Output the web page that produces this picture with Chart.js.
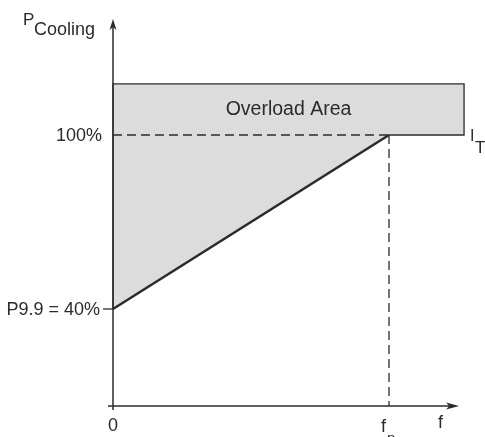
<!DOCTYPE html>
<html>
<head>
<meta charset="utf-8">
<script src="https://cdn.jsdelivr.net/npm/chart.js@4/dist/chart.umd.min.js"></script>
<style>
  html, body { margin: 0; padding: 0; background: #fff; }
  canvas { display: block; }
</style>
</head>
<body>
<canvas id="coolChart" width="485" height="437"></canvas>
<script>
// x in units of fn (0 .. fn), y in percent of cooling power
var freqTicks = [0, 1];
var freqLabels = ['0', 'f'];
var pctTicks = [40, 100];
var pctLabels = ['P9.9 = 40%', '100%'];
var areaX = [0, 0, 1.272, 1.272, 1];
var areaY = [40, 117.6, 117.6, 100, 100];
var slopeX = [0, 1];
var slopeY = [40, 100];

var INK = '#2b2b2b';
var FAM = '"Liberation Sans", Arial, sans-serif';
var FONT = '18px ' + FAM;

function pts(xs, ys) {
	var out = [];
	for (var i = 0; i < xs.length; i++) {
		out.push({x: xs[i], y: ys[i]});
	}
	return out;
}

var X_MIN = -0.0181, X_MAX = 1.2754;
var Y_MIN = 6.55, Y_MAX = 140;

var axesPlugin = {
	id: 'axesAndText',
	afterDatasetsDraw: function(chart) {
		var ctx = chart.ctx;
		var sx = chart.scales.x, sy = chart.scales.y;
		var x0 = sx.getPixelForValue(0);
		var y0 = sy.getPixelForValue(Y_MIN);
		var yTop = sy.getPixelForValue(Y_MAX);
		var xEnd = sx.getPixelForValue(1.254);
		ctx.save();
		ctx.strokeStyle = INK;
		ctx.fillStyle = INK;
		ctx.lineWidth = 1.5;
		// y axis
		ctx.beginPath();
		ctx.moveTo(x0, y0 + 4);
		ctx.lineTo(x0, yTop + 6);
		ctx.stroke();
		ctx.beginPath();
		ctx.moveTo(x0, yTop);
		ctx.lineTo(x0 - 3.5, yTop + 11);
		ctx.lineTo(x0, yTop + 8);
		ctx.lineTo(x0 + 3.5, yTop + 11);
		ctx.closePath();
		ctx.fill();
		// x axis
		ctx.beginPath();
		ctx.moveTo(sx.getPixelForValue(X_MIN), y0);
		ctx.lineTo(xEnd - 6, y0);
		ctx.stroke();
		ctx.beginPath();
		ctx.moveTo(xEnd, y0);
		ctx.lineTo(xEnd - 13, y0 - 3.5);
		ctx.lineTo(xEnd - 10, y0);
		ctx.lineTo(xEnd - 13, y0 + 3.5);
		ctx.closePath();
		ctx.fill();
		// tick at 40%
		ctx.lineWidth = 1.3;
		var y40 = sy.getPixelForValue(pctTicks[0]);
		ctx.beginPath();
		ctx.moveTo(x0 - 10, y40);
		ctx.lineTo(x0, y40);
		ctx.stroke();

		// tick labels
		ctx.font = FONT;
		ctx.textAlign = 'right';
		ctx.textBaseline = 'middle';
		ctx.fillText(pctLabels[0], x0 - 13, y40 + 1);
		ctx.fillText(pctLabels[1], x0 - 11, sy.getPixelForValue(pctTicks[1]) + 1);

		ctx.textAlign = 'center';
		ctx.textBaseline = 'alphabetic';
		ctx.fillText(freqLabels[0], sx.getPixelForValue(freqTicks[0]), y0 + 25);
		var xfn = sx.getPixelForValue(freqTicks[1]);
		ctx.textAlign = 'left';
		ctx.fillText(freqLabels[1], xfn - 8, y0 + 26);
		ctx.font = '15px ' + FAM;
		ctx.fillText('n', xfn - 2, y0 + 37);
		ctx.font = FONT;
		ctx.fillText('f', xEnd - 21, y0 + 22);

		// axis title
		ctx.font = '17px ' + FAM;
		ctx.fillText('P', 23, 25);
		ctx.font = '18px ' + FAM;
		ctx.fillText('Cooling', 34, 35);

		// I_T
		ctx.font = '16px ' + FAM;
		ctx.fillText('I', 470, 141);
		ctx.font = '17px ' + FAM;
		ctx.fillText('T', 475, 153);

		// area label
		ctx.font = '19.5px ' + FAM;
		ctx.textAlign = 'center';
		ctx.textBaseline = 'middle';
		ctx.fillText('Overload Area', sx.getPixelForValue((areaX[0] + areaX[2]) / 2), sy.getPixelForValue((areaY[1] + areaY[3]) / 2));
		ctx.restore();
	}
};

var chart = new Chart(document.getElementById('coolChart'), {
	type: 'scatter',
	data: {
		datasets: [
			{
				label: 'Overload Area',
				data: pts(areaX, areaY),
				showLine: true,
				fill: 'shape',
				backgroundColor: '#dcdcdc',
				borderColor: INK,
				borderWidth: 1.3,
				pointRadius: 0,
				tension: 0,
				clip: false,
				order: 4
			},
			{
				label: 'limit',
				data: pts(slopeX, slopeY),
				showLine: true,
				borderColor: INK,
				borderWidth: 2.6,
				pointRadius: 0,
				clip: false,
				order: 1
			},
			{
				label: 'nominal level',
				data: pts([0, 1], [100, 100]),
				showLine: true,
				borderColor: INK,
				borderWidth: 1.3,
				borderDash: [9, 5],
				pointRadius: 0,
				clip: false,
				order: 2
			},
			{
				label: 'fn',
				data: pts([1, 1], [100, Y_MIN]),
				showLine: true,
				borderColor: INK,
				borderWidth: 1.3,
				borderDash: [9, 5],
				pointRadius: 0,
				clip: false,
				order: 3
			}
		]
	},
	options: {
		responsive: false,
		animation: false,
		layout: {padding: {left: 108, right: 20, top: 19, bottom: 31}},
		plugins: {legend: {display: false}, tooltip: {enabled: false}},
		scales: {
			x: {type: 'linear', min: X_MIN, max: X_MAX, display: false},
			y: {type: 'linear', min: Y_MIN, max: Y_MAX, display: false}
		}
	},
	plugins: [axesPlugin]
});
</script>
</body>
</html>
